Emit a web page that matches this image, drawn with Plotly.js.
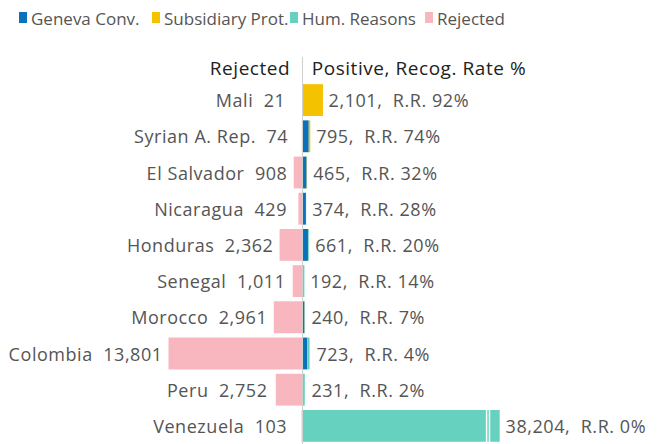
<!DOCTYPE html>
<html>
<head>
<meta charset="utf-8">
<script src="https://cdn.plot.ly/plotly-3.0.1.min.js"></script>
<style>
html,body{margin:0;padding:0;background:#fff}
#chart{width:658px;height:444px}
#chart .annotation-text{letter-spacing:0.55px}
#chart g.annotation[data-index="22"] .annotation-text,
#chart g.annotation[data-index="23"] .annotation-text,
#chart g.annotation[data-index="24"] .annotation-text,
#chart g.annotation[data-index="25"] .annotation-text{letter-spacing:0}
</style>
</head>
<body>
<div id="chart"></div>
<script>
const categories = ['Mali','Syrian A. Rep.','El Salvador','Nicaragua','Honduras','Senegal','Morocco','Colombia','Peru','Venezuela'];
const rejected = [21,74,908,429,2362,1011,2961,13801,2752,103];
const geneva = [0,640,420,350,560,100,200,500,20,30];
const subsidiary = [2101,150,30,10,20,20,20,60,5,10];
const humanitarian = [0,5,15,14,81,72,20,163,206,38164];
const recogRate = [92,74,32,28,20,14,7,4,2,0];
const seriesNames = ['Geneva Conv.','Subsidiary Prot.','Hum. Reasons','Rejected'];
const colors = ['#0A72BA','#F5C200','#66D1BE','#F8B7BF'];

const AXIS_CAP = 20300;     // axis break: longer bars are cut here
const LABEL_MIN_OFF = 900;  // left labels keep at least this distance from the centre line
const fmt = v => v.toLocaleString('en-US');
const totals = categories.map((c,i)=>geneva[i]+subsidiary[i]+humanitarian[i]);
const humShown = humanitarian.map((h,i)=>Math.min(h, AXIS_CAP-geneva[i]-subsidiary[i]));
const FONT = '"Open Sans", Lato, sans-serif';
const W = 658, H = 444, TOP = 82;
const py = p => (H - p) / (H - TOP);   // pixel-from-top -> paper y

const barCommon = {type:'bar', orientation:'h', y:categories, hoverinfo:'skip', showlegend:false};
const traces = [
  Object.assign({}, barCommon, {name:seriesNames[0], x:geneva, marker:{color:colors[0]}}),
  Object.assign({}, barCommon, {name:seriesNames[1], x:subsidiary, marker:{color:colors[1]}}),
  Object.assign({}, barCommon, {name:seriesNames[2], x:humShown, marker:{color:colors[2]}}),
  Object.assign({}, barCommon, {name:seriesNames[3], x:rejected.map(v=>-v), marker:{color:colors[3]}})
];

const shapes = [
  {type:'line', xref:'x', yref:'paper', x0:0, x1:0, y0:0, y1:py(57), line:{color:'#d0d0d0', width:1}}
];
categories.forEach((c,i)=>{
  if (totals[i] > AXIS_CAP) {
    [AXIS_CAP-1350, AXIS_CAP-1050].forEach(xb=>{
      shapes.push({type:'line', xref:'x', yref:'y', x0:xb, x1:xb, y0:i-0.45, y1:i+0.45, line:{color:'#fff', width:1.5}});
    });
  }
});

const labelFont = {family:FONT, size:18, color:'#555'};
const annotations = [];
categories.forEach((c,i)=>{
  annotations.push({xref:'x', yref:'y', x:-Math.max(rejected[i], LABEL_MIN_OFF), y:c, xanchor:'right', yanchor:'middle', xshift:-9,
    showarrow:false, text:c+'  '+fmt(rejected[i]), font:labelFont});
  annotations.push({xref:'x', yref:'y', x:Math.min(totals[i],AXIS_CAP), y:c, xanchor:'left', yanchor:'middle', xshift:8,
    showarrow:false, text:fmt(totals[i])+',  R.R. '+recogRate[i]+'%', font:labelFont});
});
annotations.push(
  {xref:'x', yref:'paper', x:0, y:py(68), xanchor:'right', yanchor:'middle', xshift:-13, showarrow:false, text:'Rejected', font:{family:FONT,size:19,color:'#222'}},
  {xref:'x', yref:'paper', x:0, y:py(68), xanchor:'left', yanchor:'middle', xshift:13, showarrow:false, text:'Positive, Recog. Rate %', font:{family:FONT,size:19,color:'#222'}}
);

// legend (drawn as key squares + labels along the top)
const legendX = [19,152,290,425];
seriesNames.forEach((n,k)=>{
  shapes.push({type:'rect', xref:'paper', yref:'paper', x0:legendX[k]/W, x1:(legendX[k]+8)/W,
    y0:py(23), y1:py(12), fillcolor:colors[k], line:{width:0}});
  annotations.push({xref:'paper', yref:'paper', x:(legendX[k]+10)/W, y:py(18), xanchor:'left', yanchor:'middle',
    showarrow:false, text:n, font:{family:FONT,size:17,color:'#555'}});
});

const layout = {
  width:W, height:H,
  margin:{l:0, r:0, t:TOP, b:0},
  paper_bgcolor:'#fff', plot_bgcolor:'#fff',
  barmode:'relative', bargap:0.12,
  font:{family:FONT, size:17, color:'#555'},
  xaxis:{range:[-31150,36600], visible:false, fixedrange:true},
  yaxis:{type:'category', autorange:'reversed', showticklabels:false, showgrid:false, zeroline:false, showline:false, ticks:''},
  showlegend:false,
  shapes:shapes,
  annotations:annotations
};

Plotly.newPlot('chart', traces, layout, {displayModeBar:false, staticPlot:true});
</script>
</body>
</html>
